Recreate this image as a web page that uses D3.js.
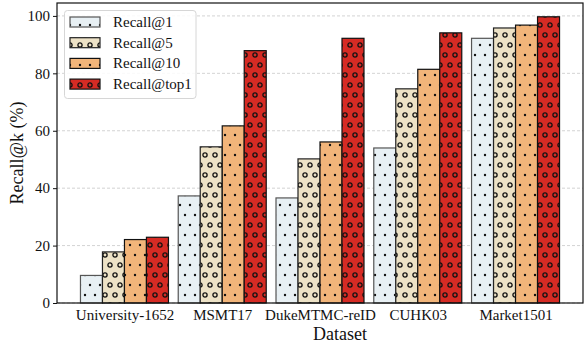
<!DOCTYPE html>
<html>
<head>
<meta charset="utf-8">
<script src="https://cdn.jsdelivr.net/npm/d3@7"></script>
<style>
  body { margin: 0; background: #fff; }
  text { font-family: "Liberation Serif", "Times New Roman", serif; }
</style>
</head>
<body>
<script>
// data
const datasets = ['University-1652', 'MSMT17', 'DukeMTMC-reID', 'CUHK03', 'Market1501'];
const seriesNames = ['Recall@1', 'Recall@5', 'Recall@10', 'Recall@top1'];
const recall1 = [9.6, 37.3, 36.6, 54.0, 92.2];
const recall5 = [17.8, 54.4, 50.2, 74.6, 95.8];
const recall10 = [22.1, 61.7, 56.1, 81.4, 96.8];
const recallTop1 = [22.9, 87.9, 92.2, 94.1, 99.7];
const yTicks = [0, 20, 40, 60, 80, 100];

const seriesValues = [recall1, recall5, recall10, recallTop1];
const fills = ['#e8f0f4', '#ede2c6', '#f2b57a', '#d62b24'];
const edges = ['#555555', '#222222', '#111111', '#111111'];
const hatches = ['dot', 'ring', 'dot', 'ring'];

const W = 584, H = 345;
const plot = { left: 57, right: 583, top: 3, bottom: 303 };

const svg = d3.select('body').append('svg')
  .attr('width', W).attr('height', H);

// hatch patterns
const defs = svg.append('defs');
fills.forEach((c, i) => {
  const p = defs.append('pattern')
    .attr('id', 'hatch' + i)
    .attr('patternUnits', 'userSpaceOnUse')
    .attr('width', 10).attr('height', 20);
  p.append('rect').attr('width', 10).attr('height', 20).attr('fill', c);
  const pts = [[0, 5], [10, 5], [5, 15]];
  pts.forEach(([x, y]) => {
    if (hatches[i] === 'dot') {
      p.append('circle').attr('cx', x).attr('cy', y).attr('r', 1.2).attr('fill', '#111');
    } else {
      p.append('circle').attr('cx', x).attr('cy', y).attr('r', 2.1)
        .attr('fill', 'none').attr('stroke', '#111').attr('stroke-width', 1.3);
    }
  });
});

const x = d3.scaleLinear().domain([-0.69, datasets.length - 1 + 0.69])
  .range([plot.left, plot.right]);
const y = d3.scaleLinear().domain([0, 104.5]).range([plot.bottom, plot.top]);
const barW = 0.225;

// grid
svg.append('g').selectAll('line').data(yTicks).join('line')
  .attr('x1', plot.left).attr('x2', plot.right)
  .attr('y1', d => y(d)).attr('y2', d => y(d))
  .attr('stroke', '#c8c8c8').attr('stroke-width', 0.8)
  .attr('stroke-dasharray', '3,2');

// bars
seriesValues.forEach((vals, s) => {
  svg.append('g').selectAll('rect').data(vals).join('rect')
    .attr('x', (d, i) => x(i + (s - 2) * barW))
    .attr('width', x(barW) - x(0))
    .attr('y', d => y(d))
    .attr('height', d => y(0) - y(d))
    .attr('fill', 'url(#hatch' + s + ')')
    .attr('stroke', edges[s]).attr('stroke-width', 1.2);
});

// axes
const yAxis = svg.append('g')
  .attr('transform', 'translate(' + plot.left + ',0)')
  .call(d3.axisLeft(y).tickValues(yTicks).tickSize(4).tickPadding(3));
yAxis.select('.domain').remove();
yAxis.selectAll('text').attr('font-size', 15).attr('fill', '#111')
  .style('font-family', '"Liberation Serif", serif');
yAxis.selectAll('line').attr('stroke', '#111');

const xAxis = svg.append('g')
  .attr('transform', 'translate(0,' + plot.bottom + ')')
  .call(d3.axisBottom(x).tickValues(d3.range(datasets.length))
    .tickFormat(i => datasets[i]).tickSize(0).tickPadding(6));
xAxis.select('.domain').remove();
xAxis.selectAll('text').attr('font-size', 15).attr('fill', '#111')
  .style('font-family', '"Liberation Serif", serif');

// frame
svg.append('rect')
  .attr('x', plot.left).attr('y', plot.top)
  .attr('width', plot.right - plot.left).attr('height', plot.bottom - plot.top)
  .attr('fill', 'none').attr('stroke', '#111').attr('stroke-width', 1.2);

// labels
svg.append('text').attr('x', (plot.left + plot.right) / 2 + 20).attr('y', 340)
  .attr('text-anchor', 'middle').attr('font-size', 18).attr('fill', '#111')
  .text('Dataset');
svg.append('text').attr('transform', 'translate(23,' + (plot.top + plot.bottom) / 2 + ') rotate(-90)')
  .attr('text-anchor', 'middle').attr('font-size', 18).attr('fill', '#111')
  .text('Recall@k (%)');

// legend
const lg = svg.append('g');
lg.append('rect').attr('x', 64.5).attr('y', 10.5).attr('width', 131.5).attr('height', 88)
  .attr('rx', 3).attr('fill', 'rgba(255,255,255,0.85)')
  .attr('stroke', '#d6d6d6').attr('stroke-width', 1);
seriesNames.forEach((n, i) => {
  const cy = 22 + i * 20.7;
  lg.append('rect').attr('x', 70).attr('y', cy - 5).attr('width', 30).attr('height', 10)
    .attr('fill', 'url(#hatch' + i + ')')
    .attr('stroke', edges[i]).attr('stroke-width', 1.2);
  lg.append('text').attr('x', 113).attr('y', cy + 5).attr('font-size', 15)
    .attr('fill', '#111').text(n);
});
</script>
</body>
</html>
